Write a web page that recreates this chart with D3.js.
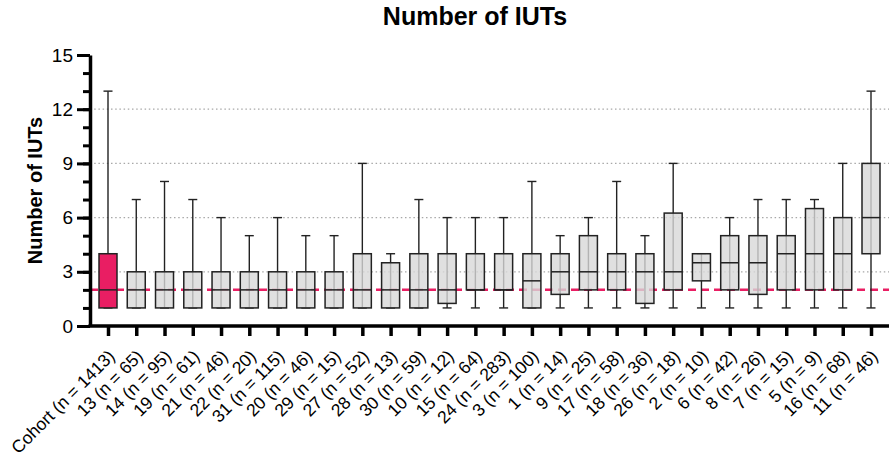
<!DOCTYPE html>
<html>
<head>
<meta charset="utf-8">
<script src="https://cdn.jsdelivr.net/npm/d3@7"></script>
<style>
  body { margin: 0; background: #fff; }
  text { font-family: "Liberation Sans", Arial, sans-serif; }
</style>
</head>
<body>
<svg id="chart" width="894" height="457"></svg>
<script>
var groups = ['Cohort', '13', '14', '19', '21', '22', '31', '20', '29', '27', '28', '30', '10', '15',
  '24', '3', '1', '9', '17', '18', '26', '2', '6', '8', '7', '5', '16', '11'];
var counts = [1413, 65, 95, 61, 46, 20, 115, 46, 15, 52, 13, 59, 12, 64,
  283, 100, 14, 25, 58, 36, 18, 10, 42, 26, 15, 9, 68, 46];
var whiskerLow = [1, 1, 1, 1, 1, 1, 1, 1, 1, 1, 1, 1, 1, 1,
  1, 1, 1, 1, 1, 1, 1, 1, 1, 1, 1, 1, 1, 1];
var q1 = [1, 1, 1, 1, 1, 1, 1, 1, 1, 1, 1, 1, 1.25, 2,
  2, 1, 1.75, 2, 2, 1.25, 2, 2.5, 2, 1.75, 2, 2, 2, 4];
var median = [2, 2, 2, 2, 2, 2, 2, 2, 2, 2, 2, 2, 2, 2,
  2, 2.5, 3, 3, 3, 3, 3, 3.5, 3.5, 3.5, 4, 4, 4, 6];
var q3 = [4, 3, 3, 3, 3, 3, 3, 3, 3, 4, 3.5, 4, 4, 4,
  4, 4, 4, 5, 4, 4, 6.25, 4, 5, 5, 5, 6.5, 6, 9];
var whiskerHigh = [13, 7, 8, 7, 6, 5, 6, 5, 5, 9, 4, 7, 6, 6,
  6, 8, 5, 6, 8, 5, 9, 4, 6, 7, 7, 7, 9, 13];
var yMajorTicks = [0, 3, 6, 9, 12, 15];
var gridValues = [3, 6, 9, 12];
var referenceValue = 2;

var pink = '#e91e63';
var boxes = groups.map(function (g, i) {
  return {
    label: g + ' (n = ' + counts[i] + ')',
    lo: whiskerLow[i], q1: q1[i], med: median[i], q3: q3[i], hi: whiskerHigh[i],
    cohort: i === 0
  };
});

var svg = d3.select('#chart');
var plotLeft = 90, plotRight = 889, plotTop = 55, plotBottom = 326;

var x = d3.scalePoint()
  .domain(boxes.map(function (d) { return d.label; }))
  .range([108, 871]);
var y = d3.scaleLinear().domain([0, 15]).range([plotBottom, plotTop]);

// title
svg.append('text')
  .attr('x', 475).attr('y', 25)
  .attr('text-anchor', 'middle')
  .style('font-size', '25px').style('font-weight', 'bold')
  .text('Number of IUTs');

// y label
svg.append('text')
  .attr('transform', 'translate(42,' + (plotTop + plotBottom) / 2 + ') rotate(-90)')
  .attr('text-anchor', 'middle')
  .style('font-size', '20px').style('font-weight', 'bold')
  .text('Number of IUTs');

// dotted grid
svg.append('g').selectAll('line').data(gridValues).enter().append('line')
  .attr('x1', plotLeft).attr('x2', plotRight)
  .attr('y1', y).attr('y2', y)
  .attr('stroke', '#a8a8a8').attr('stroke-width', 1.2)
  .attr('stroke-dasharray', '1.5,2.7');

// reference line at 2
svg.append('line')
  .attr('x1', plotLeft).attr('x2', plotRight)
  .attr('y1', y(referenceValue)).attr('y2', y(referenceValue))
  .attr('stroke', pink).attr('stroke-width', 2.5)
  .attr('stroke-dasharray', '8,5');

// boxes
var bw = 18, capW = 9;
var boxG = svg.append('g').selectAll('g').data(boxes).enter().append('g')
  .attr('transform', function (d) { return 'translate(' + x(d.label) + ',0)'; });

boxG.append('line')
  .attr('x1', 0).attr('x2', 0)
  .attr('y1', function (d) { return y(d.hi); })
  .attr('y2', function (d) { return y(d.lo); })
  .attr('stroke', '#222').attr('stroke-width', 1.4);

boxG.selectAll('.cap')
  .data(function (d) { return [d.hi, d.lo]; })
  .enter().append('line')
  .attr('class', 'cap')
  .attr('x1', -capW / 2).attr('x2', capW / 2)
  .attr('y1', y).attr('y2', y)
  .attr('stroke', '#222').attr('stroke-width', 1.4);

boxG.append('rect')
  .attr('x', -bw / 2).attr('width', bw)
  .attr('y', function (d) { return y(d.q3); })
  .attr('height', function (d) { return y(d.q1) - y(d.q3); })
  .attr('fill', function (d) { return d.cohort ? pink : '#d8d8d8'; })
  .attr('fill-opacity', function (d) { return d.cohort ? 1 : 0.8; })
  .attr('stroke', '#222').attr('stroke-width', 1.5);

boxG.append('line')
  .attr('x1', -bw / 2).attr('x2', bw / 2)
  .attr('y1', function (d) { return y(d.med); })
  .attr('y2', function (d) { return y(d.med); })
  .attr('stroke', '#222').attr('stroke-width', 1.5);

// y axis: minor then major ticks
svg.append('g')
  .attr('transform', 'translate(' + plotLeft + ',0)')
  .call(d3.axisLeft(y).ticks(15).tickSize(7).tickFormat(''))
  .call(function (g) { g.select('.domain').remove(); })
  .selectAll('line').attr('stroke', '#000').attr('stroke-width', 3);

var yAxis = svg.append('g')
  .attr('transform', 'translate(' + plotLeft + ',0)')
  .call(d3.axisLeft(y).tickValues(yMajorTicks).tickSize(13).tickPadding(4).tickSizeOuter(0));
yAxis.select('.domain').attr('stroke', '#000').attr('stroke-width', 3.5);
yAxis.selectAll('line').attr('stroke', '#000').attr('stroke-width', 3);
yAxis.selectAll('text')
  .style('font-size', '19px').style('font-family', '"Liberation Sans", Arial, sans-serif')
  .attr('fill', '#000');

// x axis
var xAxis = svg.append('g')
  .attr('transform', 'translate(0,' + plotBottom + ')')
  .call(d3.axisBottom(x).tickSize(10).tickSizeOuter(0));
xAxis.select('.domain')
  .attr('d', 'M' + (plotLeft - 1.5) + ',0H' + plotRight)
  .attr('stroke', '#000').attr('stroke-width', 3.5);
xAxis.selectAll('line').attr('stroke', '#000').attr('stroke-width', 3.5);
xAxis.selectAll('text')
  .attr('text-anchor', 'end')
  .attr('x', 0).attr('y', 0).attr('dy', '0.35em')
  .attr('transform', 'translate(3,27) rotate(-45)')
  .style('font-size', '17.5px').style('font-family', '"Liberation Sans", Arial, sans-serif')
  .attr('fill', '#000');
</script>
</body>
</html>
